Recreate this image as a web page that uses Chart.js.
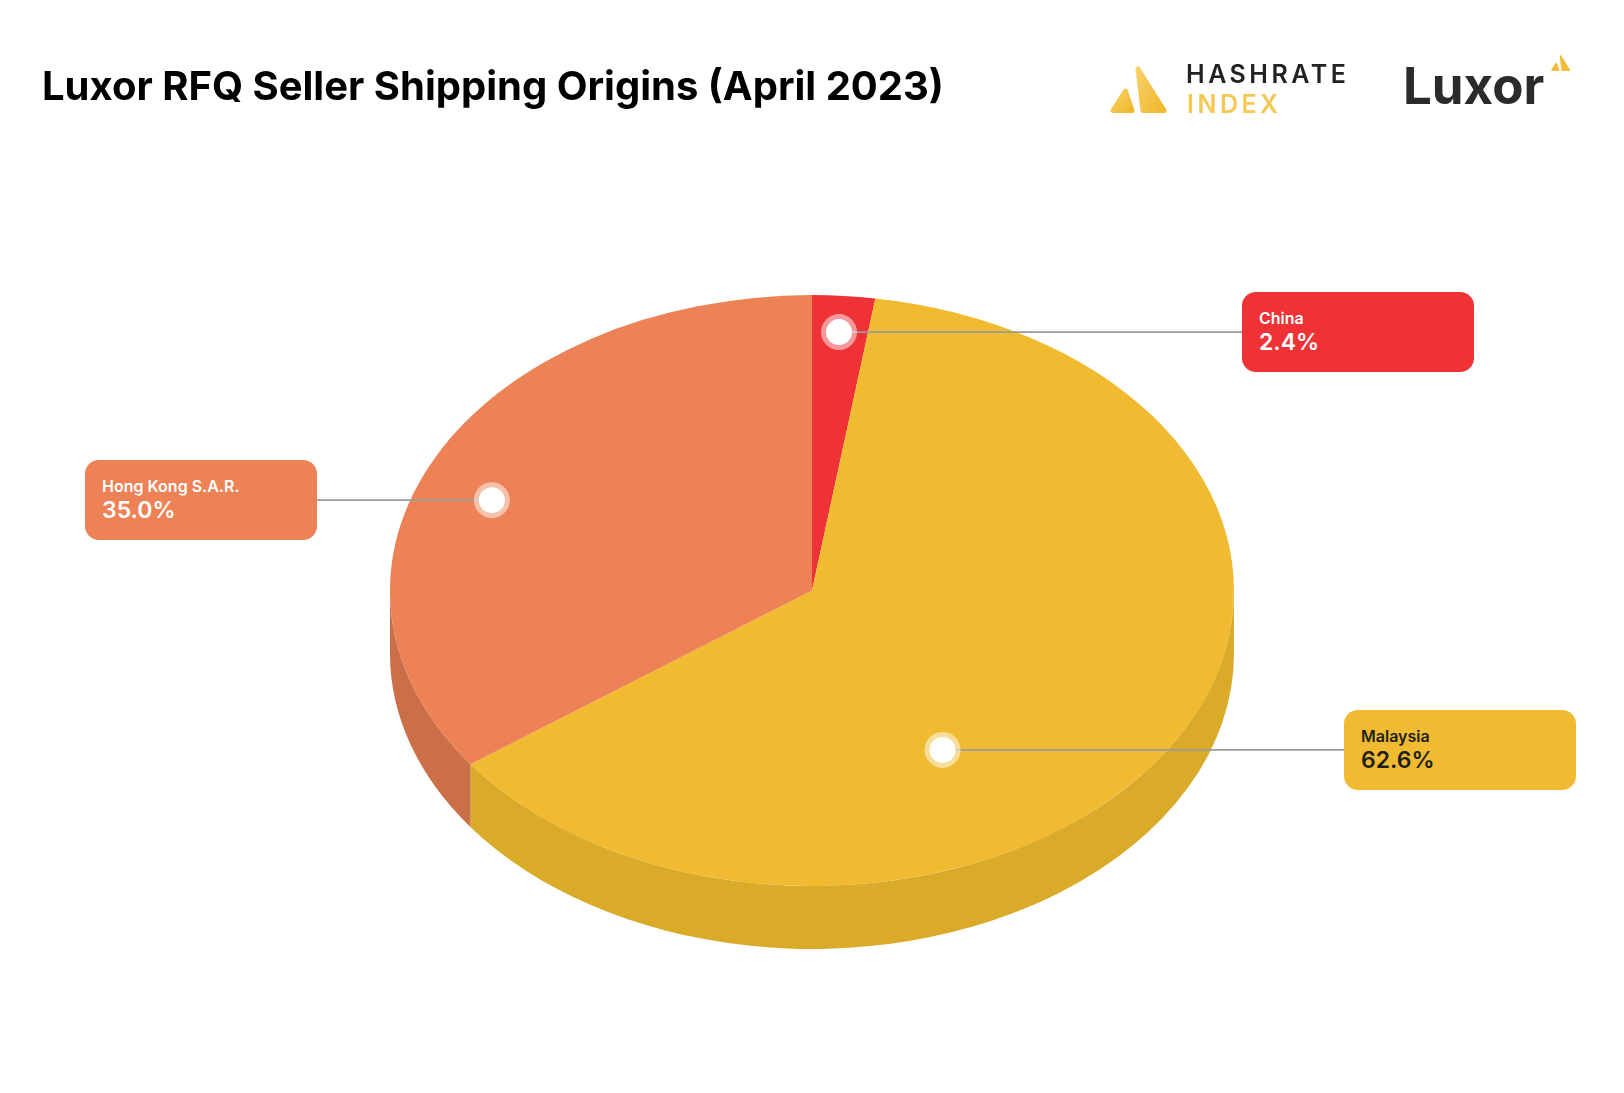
<!DOCTYPE html>
<html><head><meta charset="utf-8">
<script src="https://cdn.jsdelivr.net/npm/chart.js@4"></script>
<style>
html,body{margin:0;padding:0;background:#fff;}
body{width:1624px;height:1093px;position:relative;overflow:hidden;font-family:Inter,"Noto Sans",sans-serif;}
#c{position:absolute;left:0;top:0;}
.t{position:absolute;white-space:nowrap;}
.box{position:absolute;border-radius:14px;}
.box .nm{position:absolute;left:17px;top:18.2px;font-size:16px;line-height:16px;font-weight:600;white-space:nowrap;}
.box .vl{position:absolute;left:17px;top:39px;font-size:23px;line-height:23px;font-weight:600;white-space:nowrap;}
</style></head><body>
<canvas id="c" width="1624" height="1093"></canvas>
<div class="t" style="left:42px;top:65.5px;font-size:40px;line-height:40px;font-weight:700;color:#000;">Luxor RFQ Seller Shipping Origins (April 2023)</div>
<svg style="position:absolute;left:0;top:0;" width="1624" height="130">
  <defs>
    <linearGradient id="g1" x1="0" y1="0" x2="1" y2="1">
      <stop offset="0" stop-color="#F7D068"/><stop offset="1" stop-color="#F0B82C"/>
    </linearGradient>
  </defs>
  <g fill="url(#g1)" stroke="url(#g1)" stroke-width="5" stroke-linejoin="round">
    <polygon points="1138,69 1143,110.5 1164,110.5"/>
    <polygon points="1125.5,91 1113,110.5 1132,110.5"/>
  </g>
  <g transform="translate(1551,55) scale(0.34) translate(-1110,-66)" fill="#F1BE3C" stroke="#F1BE3C" stroke-width="5" stroke-linejoin="round">
    <polygon points="1138,69 1143,110.5 1164,110.5"/>
    <polygon points="1125.5,91 1113,110.5 1132,110.5"/>
  </g>
</svg>
<div class="t" style="left:1186px;top:61.7px;font-size:25px;line-height:25px;font-weight:600;letter-spacing:3.5px;color:#222;">HASHRATE</div>
<div class="t" style="left:1187px;top:92.4px;font-size:25px;line-height:25px;font-weight:600;letter-spacing:3.5px;color:#F5C853;">INDEX</div>
<div class="t" style="left:1403px;top:60.3px;font-size:51px;line-height:51px;font-weight:700;color:#2b2b2b;">Luxor</div>
<div id="boxes"></div>
<script>
const categories = ['China', 'Malaysia', 'Hong Kong S.A.R.'];
const shares = [2.4, 62.6, 35.0];
const topColors = ['#EF3235', '#F0BB31', '#EC8255'];
const sideColors = ['#C9292B', '#DAAA29', '#CB6F48'];
const labelTextColors = ['#ffffff', '#1f1f1f', '#ffffff'];

const tilt = 0.7;     // vertical squash of the pie (ry / rx)
const depth = 63;     // thickness of the 3D side in px
// callout placement: t = position along the slice angle, f = fraction of radius, boxX = box left edge
const callouts = [
  {t: 0.484, f: 0.877, boxX: 1242},
  {t: 0.628, f: 0.622, boxX: 1344},
  {t: 0.46,  f: 0.818, boxX: 85}
];
const boxW = 232, boxH = 80;

function squash(ctx, cx, cy) {
  ctx.translate(cx, cy); ctx.scale(1, tilt); ctx.translate(-cx, -cy);
}

const pie3d = {
  id: 'pie3d',
  beforeDatasetsDraw(chart) {
    const ctx = chart.ctx;
    const els = chart.getDatasetMeta(0).data;
    const cx = els[0].x, cy = els[0].y;
    // side walls: for each slice, the visible front part (canvas angles 0..PI, with wrap)
    els.forEach((el, i) => {
      const R = el.outerRadius;
      const ry = R * tilt;
      for (let k = -1; k <= 1; k++) {
        const s = Math.max(el.startAngle + k * 2 * Math.PI, 0);
        const e = Math.min(el.endAngle + k * 2 * Math.PI, Math.PI);
        if (e <= s) continue;
        ctx.save();
        ctx.fillStyle = sideColors[i];
        ctx.beginPath();
        ctx.ellipse(cx, cy, R, ry, 0, s, e, false);
        ctx.ellipse(cx, cy + depth, R, ry, 0, e, s, true);
        ctx.closePath();
        ctx.fill();
        ctx.restore();
      }
    });
    ctx.save();
    squash(ctx, cx, cy);
  },
  afterDatasetsDraw(chart) {
    chart.ctx.restore();
  },
  afterDraw(chart) {
    const ctx = chart.ctx;
    const els = chart.getDatasetMeta(0).data;
    const holder = document.getElementById('boxes');
    holder.innerHTML = '';
    els.forEach((el, i) => {
      const lay = callouts[i];
      const a = el.startAngle + lay.t * (el.endAngle - el.startAngle);
      const r = lay.f * el.outerRadius;
      const mx = el.x + r * Math.cos(a);
      const my = el.y + tilt * r * Math.sin(a);
      const toRight = lay.boxX > mx;
      const lx = toRight ? lay.boxX : lay.boxX + boxW;
      ctx.save();
      ctx.strokeStyle = '#9b9b9b';
      ctx.lineWidth = 1.6;
      ctx.beginPath();
      ctx.moveTo(mx, my); ctx.lineTo(lx, my);
      ctx.stroke();
      ctx.fillStyle = 'rgba(255,255,255,0.5)';
      ctx.beginPath(); ctx.arc(mx, my, 18, 0, Math.PI * 2); ctx.fill();
      ctx.fillStyle = '#ffffff';
      ctx.beginPath(); ctx.arc(mx, my, 13, 0, Math.PI * 2); ctx.fill();
      ctx.restore();

      const b = document.createElement('div');
      b.className = 'box';
      b.style.left = lay.boxX + 'px';
      b.style.top = (my - boxH / 2) + 'px';
      b.style.width = boxW + 'px';
      b.style.height = boxH + 'px';
      b.style.background = topColors[i];
      b.style.color = labelTextColors[i];
      const n = document.createElement('div'); n.className = 'nm'; n.textContent = categories[i];
      const v = document.createElement('div'); v.className = 'vl'; v.textContent = shares[i].toFixed(1) + '%';
      b.appendChild(n); b.appendChild(v);
      holder.appendChild(b);
    });
  }
};

new Chart(document.getElementById('c'), {
  type: 'pie',
  data: {
    labels: categories,
    datasets: [{
      data: shares,
      backgroundColor: topColors,
      borderWidth: 0
    }]
  },
  options: {
    responsive: false,
    devicePixelRatio: 1,
    animation: false,
    events: [],
    radius: 422,
    layout: {padding: {top: 88, bottom: 0, left: 0, right: 0}},
    plugins: {legend: {display: false}, tooltip: {enabled: false}}
  },
  plugins: [pie3d]
});
</script>
</body></html>
